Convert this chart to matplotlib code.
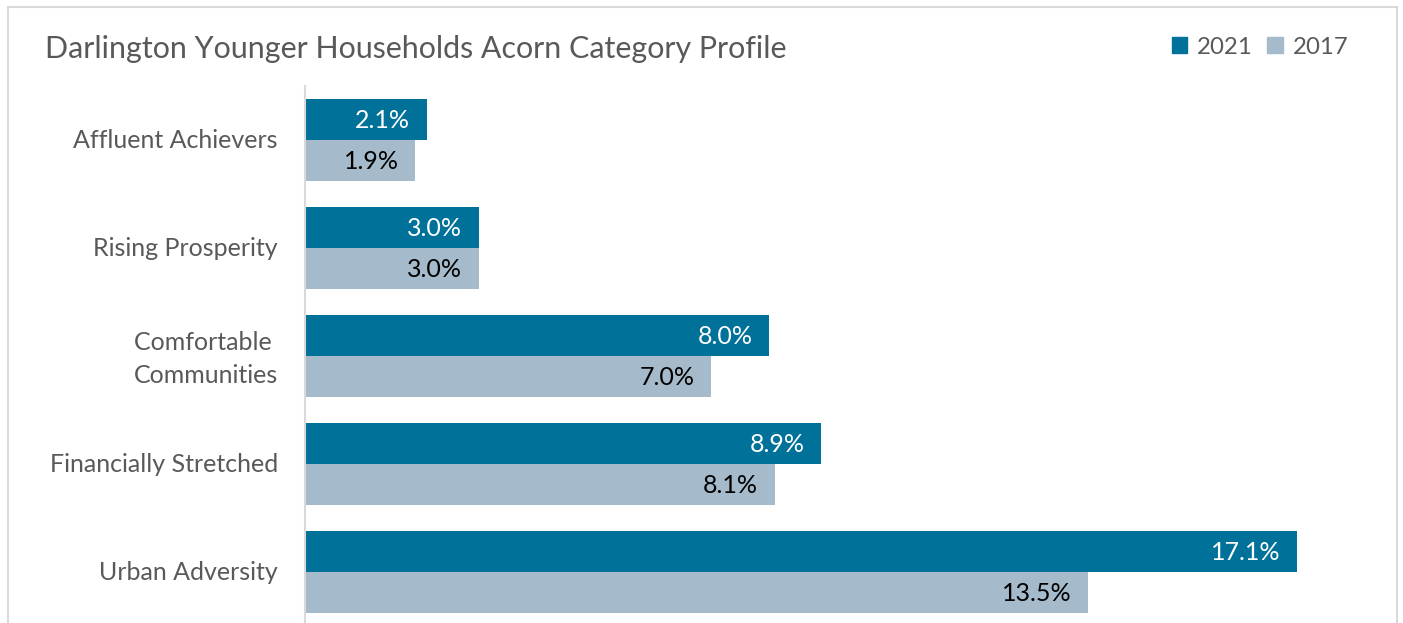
import matplotlib
matplotlib.use("Agg")
import matplotlib.pyplot as plt
from matplotlib.patches import Rectangle, Patch
from matplotlib.transforms import ScaledTranslation
import numpy as np

categories = ["Affluent Achievers", "Rising Prosperity", "Comfortable \nCommunities",
              "Financially Stretched", "Urban Adversity"]
values_2021 = [2.1, 3.0, 8.0, 8.9, 17.1]
values_2017 = [1.9, 3.0, 7.0, 8.1, 13.5]
series_names = ["2021", "2017"]
title = "Darlington Younger Households Acorn Category Profile"

c2021 = "#00729A"
c2017 = "#A5BACA"
grey = "#595959"

plt.rcParams['font.family'] = ['Lato', 'DejaVu Sans']

W, H = 1403, 623
fig = plt.figure(figsize=(W / 100, H / 100), dpi=100)

# axes placement in pixels
ax_left, ax_top, ax_bottom = 305, 86, 626
xmax = 18.0
px_per_unit = (1297 - 305) / 17.1
ax_right = ax_left + xmax * px_per_unit
ax = fig.add_axes([ax_left / W, (H - ax_bottom) / H,
                   (ax_right - ax_left) / W, (ax_bottom - ax_top) / H])

y = np.arange(len(categories))
h = 0.38
ax.barh(y - h / 2, values_2021, height=h, color=c2021, label=series_names[0])
ax.barh(y + h / 2, values_2017, height=h, color=c2017, label=series_names[1])

ax.set_xlim(0, xmax)
ax.set_ylim(len(categories) - 0.5, -0.5)
ax.set_yticks(y)
ax.set_yticklabels(categories, fontsize=18, color=grey, ha='right', linespacing=1.55)
ax.tick_params(axis='y', length=0, pad=19.5)
ax.set_xticks([])
for s in ['top', 'right', 'bottom']:
    ax.spines[s].set_visible(False)
ax.spines['left'].set_color('#D9D9D9')
ax.spines['left'].set_linewidth(1.5)

for lbl in ax.get_yticklabels():
    dy = 4 if '\n' in lbl.get_text() else 1.5
    lbl.set_transform(lbl.get_transform() + ScaledTranslation(0, dy / 100, fig.dpi_scale_trans))

for yi, v in zip(y, values_2021):
    ax.annotate(f"{v:.1f}%", xy=(v, yi - h / 2), xytext=(-12, -1),
                textcoords='offset points', ha='right', va='center',
                color='white', fontsize=18)
for yi, v in zip(y, values_2017):
    ax.annotate(f"{v:.1f}%", xy=(v, yi + h / 2), xytext=(-12, -1),
                textcoords='offset points', ha='right', va='center',
                color='black', fontsize=18)

fig.text(45 / W, 1 - 49 / H, title, fontsize=21.9, color=grey, ha='left', va='center')

handles = [Patch(color=c2021), Patch(color=c2017)]
leg = fig.legend(handles, series_names, loc='center right',
                 bbox_to_anchor=(1370 / W, 1 - 47 / H), ncol=2, frameon=False,
                 fontsize=17.3, handlelength=0.65, handleheight=0.65,
                 handletextpad=0.4, columnspacing=0.6, labelcolor=grey)

# outer border
fig.patches.append(Rectangle((8 / W, -0.05), (1397 - 8) / W, 1.05 - 7 / H,
                             transform=fig.transFigure, fill=False,
                             edgecolor='#D9D9D9', linewidth=1.5))

fig.savefig("out.png", dpi=100)
